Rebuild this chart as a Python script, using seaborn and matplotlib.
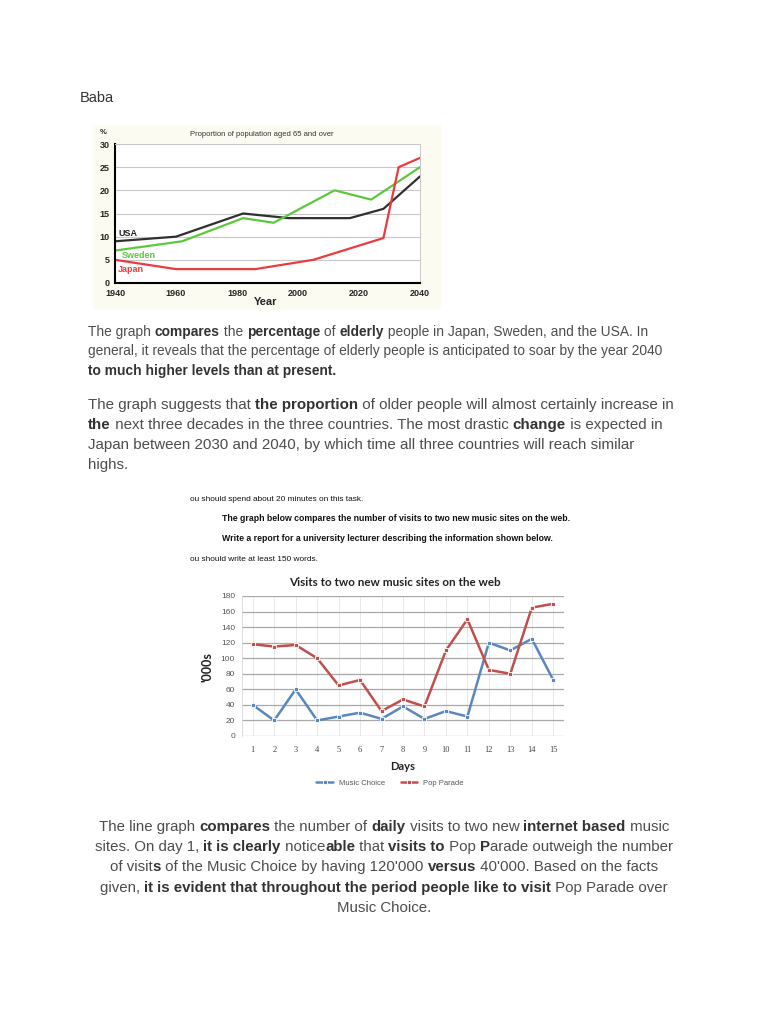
import pandas as pd
import seaborn as sns
import matplotlib.pyplot as plt
from matplotlib.patches import Rectangle
from matplotlib.font_manager import FontProperties

# chart 1: proportion of population aged 65 and over
usa_years = [1940, 1960, 1982, 1997, 2017, 2028, 2040]
usa_pct = [9, 10, 15, 14, 14, 16, 23]
sweden_years = [1940, 1962, 1982, 1992, 2012, 2024, 2040]
sweden_pct = [7, 9, 14, 13, 20, 18, 25]
japan_years = [1940, 1960, 1986, 2005, 2028, 2033, 2040]
japan_pct = [5, 3, 3, 5, 9.7, 25, 27]
year_ticks = [1940, 1960, 1980, 2000, 2020, 2040]
pct_ticks = [0, 5, 10, 15, 20, 25, 30]

# chart 2: visits to two music sites ('000s)
days = list(range(1, 16))
music_choice = [40, 20, 60, 20, 25, 30, 22, 38, 22, 32, 25, 120, 110, 125, 72]
pop_parade = [118, 115, 117, 100, 65, 72, 32, 47, 38, 110, 150, 85, 80, 165, 170]
visit_ticks = list(range(0, 181, 20))

para1 = [
    "The graph **compares** the **percentage** of **elderly** people in Japan, Sweden, and the USA. In",
    "general, it reveals that the percentage of elderly people is anticipated to soar by the year 2040",
    "**to much higher levels than at present.**",
]
para2 = [
    "The graph suggests that **the proportion** of older people will almost certainly increase in",
    "**the** next three decades in the three countries. The most drastic **change** is expected in",
    "Japan between 2030 and 2040, by which time all three countries will reach similar",
    "highs.",
]
para3 = [
    "The line graph **compares** the number of **daily** visits to two new **internet based** music",
    "sites. On day 1, **it is clearly** notice**able** that **visits to** Pop **P**arade outweigh the number",
    "of visit**s** of the Music Choice by having 120'000 **versus** 40'000. Based on the facts",
    "given, **it is evident that throughout the period people like to visit** Pop Parade over",
    "Music Choice.",
]
task_lines = [
    ("ou should spend about 20 minutes on this task.", False, 190),
    ("The graph below compares the number of visits to two new music sites on the web.", True, 222),
    ("Write a report for a university lecturer describing the information shown below.", True, 222),
    ("ou should write at least 150 words.", False, 190),
]

sns.set_style("white")
plt.rcParams['font.family'] = ['Liberation Sans', 'DejaVu Sans']

W, H = 768, 1024
fig = plt.figure(figsize=(7.68, 10.24), dpi=100)
renderer = fig.canvas.get_renderer()


def box(x0, y0, x1, y1):
    return [x0 / W, 1 - y1 / H, (x1 - x0) / W, (y1 - y0) / H]


def seg_width(s, fp):
    w1 = renderer.get_text_width_height_descent('|' + s + '|', fp, ismath=False)[0]
    w0 = renderer.get_text_width_height_descent('||', fp, ismath=False)[0]
    return w1 - w0


def rich_line(line, x, y, size, center=False, reg_color='#4d4d4d', bold_color='#333333'):
    parts = line.split('**')
    segs = [(p, i % 2 == 1) for i, p in enumerate(parts) if p]
    fps = [FontProperties(family='Liberation Sans', size=size,
                          weight='bold' if b else 'normal') for _, b in segs]
    widths = [seg_width(s, fp) for (s, _), fp in zip(segs, fps)]
    if center:
        x = x - sum(widths) / 2
    for (s, b), fp, w in zip(segs, fps, widths):
        fig.text(x / W, 1 - y / H, s, fontproperties=fp, va='baseline', ha='left',
                 color=bold_color if b else reg_color)
        x += w


# heading
fig.text(80 / W, 1 - 102 / H, "Baba", fontsize=10.5, color='#333333', va='baseline')

# ---- chart 1 ----
fig.patches.append(Rectangle((93 / W, 1 - 308 / H), 347 / W, 183 / H,
                             transform=fig.transFigure, color='#fbfbf2', zorder=-5))
ax1 = fig.add_axes(box(115, 144, 420, 283))
ax1.set_facecolor('white')
age_df = pd.concat([
    pd.DataFrame({'year': usa_years, 'pct': usa_pct, 'country': 'USA'}),
    pd.DataFrame({'year': sweden_years, 'pct': sweden_pct, 'country': 'Sweden'}),
    pd.DataFrame({'year': japan_years, 'pct': japan_pct, 'country': 'Japan'}),
])
age_colors = {'USA': '#303030', 'Sweden': '#5cc83e', 'Japan': '#ec3a3f'}
sns.lineplot(data=age_df, x='year', y='pct', hue='country', palette=age_colors,
             estimator=None, linewidth=1.6, legend=False, ax=ax1)
ax1.set_xlim(1940, 2040)
ax1.set_ylim(0, 30)
ax1.set_xticks(year_ticks)
ax1.set_yticks(pct_ticks)
ax1.set_xticklabels(year_ticks, fontweight='bold', fontsize=6.5)
ax1.set_yticklabels(pct_ticks, fontweight='bold', fontsize=6.5)
ax1.tick_params(length=3, width=1, pad=1, direction='out')
ax1.yaxis.grid(True, color='#c8c8c8', linewidth=0.8)
ax1.set_axisbelow(True)
ax1.set_xlabel('')
ax1.set_ylabel('')
for side in ['left', 'bottom']:
    ax1.spines[side].set_color('black')
    ax1.spines[side].set_linewidth(1.5)
for side in ['top', 'right']:
    ax1.spines[side].set_color('#c8c8c8')
    ax1.spines[side].set_linewidth(0.7)
ax1.text(1941, 10.6, 'USA', fontweight='bold', fontsize=6.5, color='#222222', va='center')
ax1.text(1942.3, 6.0, 'Sweden', fontweight='bold', fontsize=6.5, color='#5cc83e', va='center')
ax1.text(1940.8, 3.0, 'Japan', fontweight='bold', fontsize=6.5, color='#ec3a3f', va='center')
fig.text(262 / W, 1 - 135 / H, 'Proportion of population aged 65 and over', fontsize=5.5,
         color='#333333', ha='center', va='center')
fig.text(103 / W, 1 - 132 / H, '%', fontsize=5.5, fontweight='bold', ha='center', va='center')
fig.text(266 / W, 1 - 302 / H, 'Year', fontsize=8, fontweight='bold', ha='center', va='center')

# ---- body text ----
for i, line in enumerate(para1):
    rich_line(line, 88, 336 + i * 19.5, 9.9)
for i, line in enumerate(para2):
    rich_line(line, 88, 409 + i * 20, 10.9)

# ---- task text ----
for i, (line, bold, x0) in enumerate(task_lines):
    fig.text(x0 / W, 1 - (501 + i * 20) / H, line, fontsize=6.3 if bold else 5.95,
             fontweight='bold' if bold else 'normal', color='#111111', va='baseline')

# ---- chart 2 ----
ax2 = fig.add_axes(box(242, 596, 564, 736))
visits_df = pd.DataFrame({
    'day': days + days,
    'visits': music_choice + pop_parade,
    'site': ['Music Choice'] * len(days) + ['Pop Parade'] * len(days),
})
site_colors = {'Music Choice': '#5a87bd', 'Pop Parade': '#c0504d'}
sns.lineplot(data=visits_df, x='day', y='visits', hue='site', palette=site_colors,
             estimator=None, linewidth=1.8, marker='s', markersize=3.2,
             markeredgewidth=0.6, ax=ax2)
ax2.set_xlim(0.5, 15.5)
ax2.set_ylim(0, 180)
ax2.set_xticks(days)
ax2.set_yticks(visit_ticks)
ax2.set_xticklabels(days, fontsize=6, color='#444444', family='Liberation Serif')
ax2.set_yticklabels(visit_ticks, fontsize=6, color='#555555')
ax2.tick_params(length=0, pad=7)
ax2.tick_params(axis='y', pad=5)
ax2.yaxis.grid(True, color='#a8a8a8', linewidth=0.9)
ax2.xaxis.grid(True, color='#e4e4e4', linewidth=0.6)
ax2.set_axisbelow(True)
ax2.set_xlabel('')
ax2.set_ylabel('')
for side in ['top', 'right', 'bottom']:
    ax2.spines[side].set_visible(False)
ax2.spines['left'].set_color('#d8d8d8')
ax2.spines['left'].set_linewidth(0.6)
sns.move_legend(ax2, 'center', bbox_to_anchor=(0.46, -0.335), ncol=2, frameon=False,
                title=None, fontsize=5.5, handlelength=2.2, columnspacing=2.0,
                numpoints=1)
for t in ax2.get_legend().get_texts():
    t.set_color('#555555')
fig.text(395 / W, 1 - 582 / H, 'Visits to two new music sites on the web', fontsize=8.4,
         fontweight='bold', family='Lato', color='#222222', ha='center', va='center')
fig.text(207 / W, 1 - 667 / H, "'000s", fontsize=9, fontweight='bold', family='Lato',
         color='#222222', rotation=90, ha='center', va='center')
fig.text(403 / W, 1 - 766 / H, 'Days', fontsize=8, fontweight='bold', family='Lato',
         color='#222222', ha='center', va='center')

# ---- closing paragraph ----
for i, line in enumerate(para3):
    rich_line(line, 384, 831 + i * 20.2, 10.8, center=True)

fig.savefig('out.png', dpi=100)
